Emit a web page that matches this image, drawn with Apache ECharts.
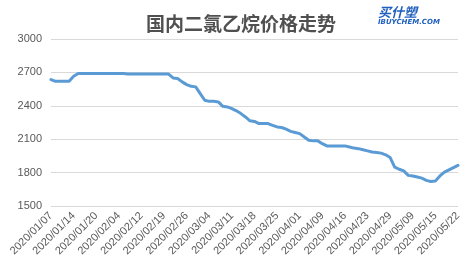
<!DOCTYPE html>
<html>
<head>
<meta charset="utf-8">
<script src="https://cdn.jsdelivr.net/npm/echarts@6/dist/echarts.min.js"></script>
<style>html,body{margin:0;padding:0;background:#fff;}#c{width:469px;height:276px;}</style>
</head>
<body>
<div id="c"></div>
<script>
const titleText = '国内二氯乙烷价格走势';
const dates = [
'2020/01/07',
'2020/01/08','2020/01/09','2020/01/10','2020/01/13','2020/01/14',
'2020/01/15','2020/01/16','2020/01/17','2020/01/19','2020/01/20',
'2020/01/21','2020/01/22','2020/01/23','2020/02/03','2020/02/04',
'2020/02/05','2020/02/06','2020/02/07','2020/02/10','2020/02/12',
'2020/02/13','2020/02/14','2020/02/17','2020/02/18','2020/02/19',
'2020/02/20','2020/02/21','2020/02/24','2020/02/25','2020/02/26',
'2020/02/27','2020/02/28','2020/03/02','2020/03/03','2020/03/04',
'2020/03/05','2020/03/06','2020/03/09','2020/03/10','2020/03/11',
'2020/03/12','2020/03/13','2020/03/16','2020/03/17','2020/03/18',
'2020/03/19','2020/03/20','2020/03/23','2020/03/24','2020/03/25',
'2020/03/26','2020/03/27','2020/03/30','2020/03/31','2020/04/01',
'2020/04/02','2020/04/03','2020/04/07','2020/04/08','2020/04/09',
'2020/04/10','2020/04/13','2020/04/14','2020/04/15','2020/04/16',
'2020/04/17','2020/04/20','2020/04/21','2020/04/22','2020/04/23',
'2020/04/24','2020/04/26','2020/04/27','2020/04/28','2020/04/29',
'2020/04/30','2020/05/06','2020/05/07','2020/05/08','2020/05/09',
'2020/05/11','2020/05/12','2020/05/13','2020/05/14','2020/05/15',
'2020/05/18','2020/05/19','2020/05/20','2020/05/21','2020/05/22'
];
const prices = [
2635,
2620,2620,2620,2620,2665,
2690,2690,2690,2690,2690,
2690,2690,2690,2690,2690,
2690,2685,2685,2685,2685,
2685,2685,2685,2685,2685,
2685,2650,2645,2615,2590,
2575,2570,2510,2450,2440,
2440,2435,2395,2390,2375,
2355,2330,2300,2265,2260,
2240,2240,2240,2225,2210,
2205,2190,2170,2160,2150,
2120,2090,2085,2085,2060,
2040,2040,2040,2040,2040,
2030,2020,2015,2005,1995,
1985,1980,1975,1960,1935,
1850,1830,1815,1775,1770,
1760,1750,1730,1720,1725,
1770,1805,1825,1845,1865
];
const yTicks = [1500, 1800, 2100, 2400, 2700, 3000];

const chart = echarts.init(document.getElementById('c'), null, {renderer: 'canvas'});
chart.setOption({
  backgroundColor: '#ffffff',
  animation: false,
  title: {
    text: titleText,
    left: 236, top: 9, textAlign: 'center',
    textStyle: {fontFamily: '"Noto Sans CJK SC"', fontSize: 19, fontWeight: 'bold', color: '#505050'}
  },
  graphic: [
    {type: 'text', left: 378, top: 6, style: {text: '买什塑', fontFamily: '"Noto Sans CJK SC"', fontSize: 13, fontWeight: 'bold', fontStyle: 'italic', fill: '#1f5fbf'}},
    {type: 'text', left: 378, top: 19, style: {text: 'IBUYCHEM.COM', fontFamily: '"DejaVu Sans"', fontSize: 7, fontWeight: 'bold', fontStyle: 'italic', fill: '#1f5fbf'}}
  ],
  grid: {left: 51, right: 11, top: 39, bottom: 70, containLabel: false},
  xAxis: {
    type: 'category',
    data: dates,
    boundaryGap: false,
    axisLine: {show: false},
    axisTick: {show: false},
    axisLabel: {
      interval: 4, rotate: 45, fontSize: 11, color: '#595959',
      fontFamily: '"Liberation Sans"', margin: 8
    },
    splitLine: {show: false}
  },
  yAxis: {
    type: 'value',
    min: yTicks[0], max: yTicks[yTicks.length - 1], interval: 300,
    axisLine: {show: false},
    axisTick: {show: false},
    axisLabel: {fontSize: 11, color: '#595959', fontFamily: '"Liberation Sans"', margin: 9,
      formatter: function (v) { return String(v); }},
    splitLine: {lineStyle: {color: '#d9d9d9', width: 1}}
  },
  series: [{
    type: 'line',
    data: prices,
    showSymbol: false,
    smooth: false,
    lineStyle: {color: '#5b9bd5', width: 3, cap: 'round', join: 'round'}
  }]
});
</script>
</body>
</html>
